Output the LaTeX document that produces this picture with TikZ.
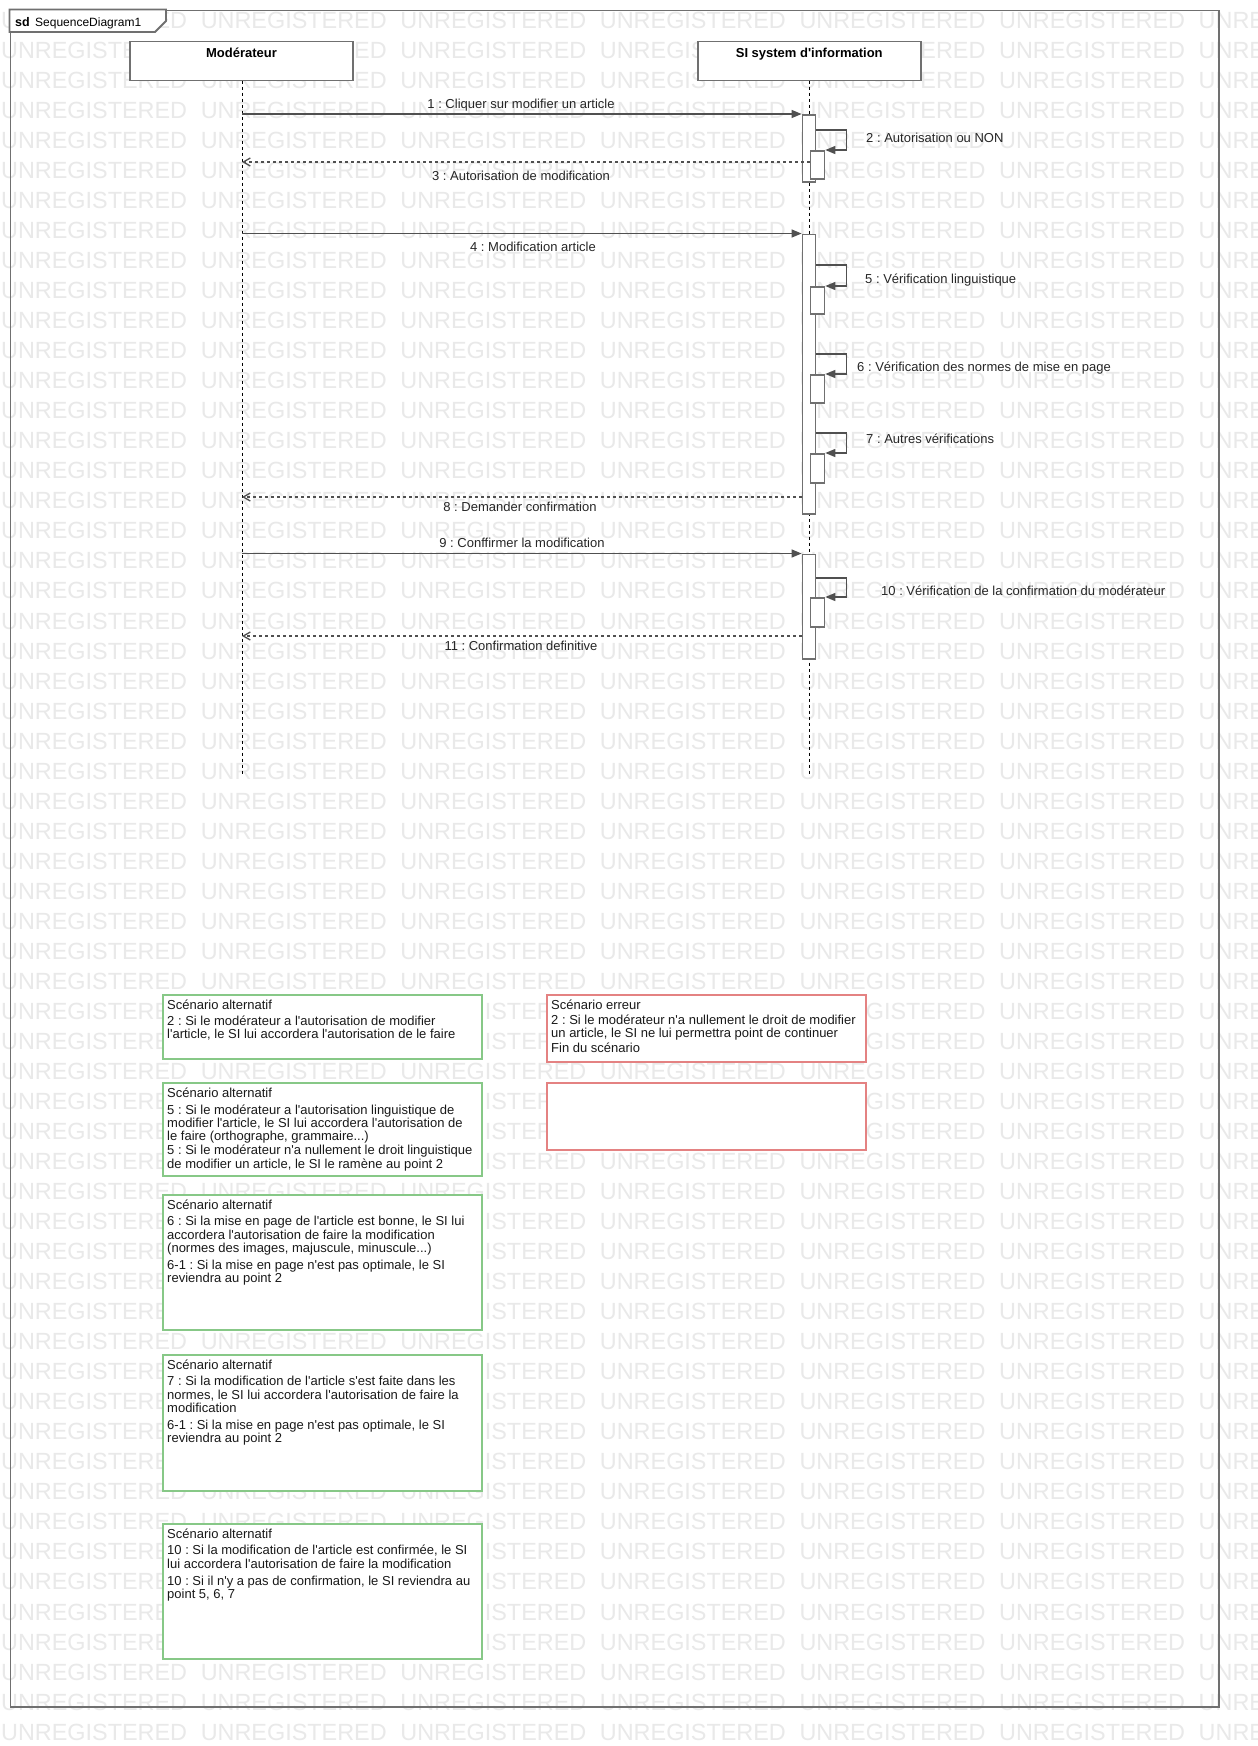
\documentclass[tikz,border=0pt]{standalone}
\usepackage{fontspec}
\setmainfont{Liberation Sans}[Ligatures=TeXOff]
\usetikzlibrary{arrows.meta}
\definecolor{wmgray}{RGB}{233,233,233}
\definecolor{edgegray}{RGB}{112,112,112}
\definecolor{msggray}{RGB}{80,80,80}
\definecolor{notegreen}{RGB}{135,200,135}
\definecolor{notered}{RGB}{228,130,130}
\newcommand{\wmword}{\makebox[199.6pt][l]{UNREGISTERED}}
\newcommand{\wmrow}{\wmword\wmword\wmword\wmword\wmword\wmword\wmword}
\frenchspacing
\begin{document}
\begin{tikzpicture}[x=1pt,y=-1pt,
  wmtext/.style={inner sep=0pt,anchor=base west,text=wmgray,font=\fontsize{23.4}{24}\selectfont},
  frameline/.style={draw=edgegray,line width=1.8pt},
  lifehead/.style={draw=edgegray,line width=1.8pt,fill=white,minimum width=223pt,minimum height=39pt,inner sep=0pt},
  headtext/.style={inner sep=0pt,anchor=base,font=\fontsize{13}{14}\selectfont\bfseries},
  lifeline/.style={draw=black,line width=1pt,dash pattern=on 3pt off 3pt},
  actbar/.style={draw=edgegray,line width=1.8pt,fill=white,minimum width=13pt,inner sep=0pt},
  subbar/.style={draw=edgegray,line width=1.8pt,fill=white,minimum width=14pt,inner sep=0pt,anchor=north west},
  msgsync/.style={draw=msggray,line width=1.3pt,-{Triangle[length=10pt,width=8pt]}},
  msgreply/.style={draw=msggray,line width=1.3pt,dash pattern=on 3pt off 3pt,-{Straight Barb[length=7pt,width=8pt]}},
  msglabel/.style={inner sep=0pt,text=black!85,font=\fontsize{13}{14}\selectfont},
  notebox/.style={line width=1.8pt,fill=white,minimum width=319pt,inner sep=0pt,anchor=north west},
  greennote/.style={notebox,draw=notegreen},
  rednote/.style={notebox,draw=notered},
  notetext/.style={inner sep=0pt,anchor=north west,align=left,text=black!90,font=\fontsize{13}{13.3}\selectfont}
]
\useasboundingbox (0,0) rectangle (1258,1746);
\fill[white] (0,0) rectangle (1258,1746);

% watermark
\foreach \k in {0,...,57} {
  \node[wmtext] (wm\k) at (1,28.4+30.03*\k) {\wmrow};
}

% frame
\node[frameline,anchor=north west,minimum width=1208.2pt,minimum height=1696.5pt,inner sep=0pt] (frame) at (9.5,9.5) {};
\draw[frameline,fill=white] (frame.north west) -- (166,9.5) -- (166,21) -- (155,32) -- (9.5,32) -- cycle;
\node[inner sep=0pt,anchor=base west,font=\fontsize{12.5}{14}\selectfont\bfseries] (sdlabel) at (15,26.5) {sd};
\node[inner sep=0pt,anchor=base west,font=\fontsize{12}{14}\selectfont] (sdname) at (35,26.5) {SequenceDiagram1};

% lifeline heads
\node[lifehead] (mod) at (241.5,61) {};
\node[headtext] (modt) at (241.5,57.5) {Modérateur};
\node[lifehead] (si) at (809.25,61) {};
\node[headtext] (sit) at (809.25,57.5) {SI system d'information};

% lifelines
\coordinate (modtop) at (242,80.5);
\coordinate (modend) at (242,776);
\coordinate (sitop) at (809,80.5);
\coordinate (siend) at (809,776);
\draw[lifeline] (modtop) -- (modend);
\draw[lifeline] (sitop) -- (siend);

% activations
\node[actbar,anchor=north,minimum height=67pt] (a1) at (809,114) {};
\node[subbar,minimum height=28pt] (a2) at (809.5,150) {};
\node[actbar,anchor=north,minimum height=279.5pt] (a4) at (809,233.5) {};
\node[subbar,minimum height=27pt] (a5) at (809.5,286) {};
\node[subbar,minimum height=28pt] (a6) at (809.5,374) {};
\node[subbar,minimum height=29pt] (a7) at (809.5,453) {};
\node[actbar,anchor=north,minimum height=104.5pt] (a9) at (809,553.5) {};
\node[subbar,minimum height=29pt] (a10) at (809.5,597) {};

% message end points on the Moderateur lifeline
\coordinate (m1) at (242,114);
\coordinate (m3) at (242,162);
\coordinate (m4) at (242,233.5);
\coordinate (m8) at (242,497);
\coordinate (m9) at (242,553.5);
\coordinate (m11) at (242,636);

% messages
\draw[msgsync] (m1) -- (a1.north west);
\draw[msgsync] ([yshift=-16pt]a1.north east) -- ++(30,0) |- (a2.north east);
\draw[msgreply] ([yshift=-12pt]a2.north west) -- (m3);
\draw[msgsync] (m4) -- (a4.north west);
\draw[msgsync] ([yshift=-31.5pt]a4.north east) -- ++(30,0) |- (a5.north east);
\draw[msgsync] ([yshift=-120.5pt]a4.north east) -- ++(30,0) |- (a6.north east);
\draw[msgsync] ([yshift=-199.5pt]a4.north east) -- ++(30,0) |- (a7.north east);
\draw[msgreply] ([yshift=-263.5pt]a4.north west) -- (m8);
\draw[msgsync] (m9) -- (a9.north west);
\draw[msgsync] ([yshift=-24.5pt]a9.north east) -- ++(30,0) |- (a10.north east);
\draw[msgreply] ([yshift=-82.5pt]a9.north west) -- (m11);

% message labels
\node[msglabel,anchor=base] (l1) at (521,108.5) {1 : Cliquer sur modifier un article};
\node[msglabel,anchor=base west] (l2) at (866,142.8) {2 : Autorisation ou NON};
\node[msglabel,anchor=base] (l3) at (521,180.5) {3 : Autorisation de modification};
\node[msglabel,anchor=base] (l4) at (533,251.5) {4 : Modification article};
\node[msglabel,anchor=base west] (l5) at (865,283.5) {5 : Vérification linguistique};
\node[msglabel,anchor=base west] (l6) at (857,371.5) {6 : Vérification des normes de mise en page};
\node[msglabel,anchor=base west] (l7) at (866,443.5) {7 : Autres vérifications};
\node[msglabel,anchor=base] (l8) at (520,511.5) {8 : Demander confirmation};
\node[msglabel,anchor=base] (l9) at (522,547.5) {9 : Conffirmer la modification};
\node[msglabel,anchor=base west] (l10) at (881,595.5) {10 : Vérification de la confirmation du modérateur};
\node[msglabel,anchor=base] (l11) at (521,650.5) {11 : Confirmation definitive};

% notes
\node[greennote,minimum height=64pt] (nA) at (162,994) {};
\node[notetext] (tA) at ([xshift=5pt,yshift=-5.5pt]nA.north west) {\rule{0pt}{10pt}Scénario alternatif\\[2.5pt]
2 : Si le modérateur a l'autorisation de modifier\\
l'article, le SI lui accordera l'autorisation de le faire};

\node[rednote,minimum height=67pt] (nC) at (546,994) {};
\node[notetext] (tC) at ([xshift=5pt,yshift=-5.5pt]nC.north west) {\rule{0pt}{10pt}Scénario erreur\\[1.5pt]
2 : Si le modérateur n'a nullement le droit de modifier\\
un article, le SI ne lui permettra point de continuer\\[1pt]
Fin du scénario};

\node[greennote,minimum height=93pt] (nB) at (162,1082) {};
\node[notetext] (tB) at ([xshift=5pt,yshift=-5.5pt]nB.north west) {\rule{0pt}{10pt}Scénario alternatif\\[3pt]
5 : Si le modérateur a l'autorisation linguistique de\\
modifier l'article, le SI lui accordera l'autorisation de\\
le faire (orthographe, grammaire...)\\[1pt]
5 : Si le modérateur n'a nullement le droit linguistique\\
de modifier un article, le SI le ramène au point 2};

\node[rednote,minimum height=67pt] (nD) at (546,1082) {};

\node[greennote,minimum height=135pt] (nE) at (162,1194) {};
\node[notetext] (tE) at ([xshift=5pt,yshift=-5.5pt]nE.north west) {\rule{0pt}{10pt}Scénario alternatif\\[2.7pt]
6 : Si la mise en page de l'article est bonne, le SI lui\\
accordera l'autorisation de faire la modification\\
(normes des images, majuscule, minuscule...)\\[3.7pt]
6-1 : Si la mise en page n'est pas optimale, le SI\\
reviendra au point 2};

\node[greennote,minimum height=136pt] (nF) at (162,1354) {};
\node[notetext] (tF) at ([xshift=5pt,yshift=-5.5pt]nF.north west) {\rule{0pt}{10pt}Scénario alternatif\\[2.7pt]
7 : Si la modification de l'article s'est faite dans les\\
normes, le SI lui accordera l'autorisation de faire la\\
modification\\[3.7pt]
6-1 : Si la mise en page n'est pas optimale, le SI\\
reviendra au point 2};

\node[greennote,minimum height=135pt] (nG) at (162,1523) {};
\node[notetext] (tG) at ([xshift=5pt,yshift=-5.5pt]nG.north west) {\rule{0pt}{10pt}Scénario alternatif\\[2.7pt]
10 : Si la modification de l'article est confirmée, le SI\\
lui accordera l'autorisation de faire la modification\\[3.7pt]
10 : Si il n'y a pas de confirmation, le SI reviendra au\\
point 5, 6, 7};
\end{tikzpicture}
\end{document}
